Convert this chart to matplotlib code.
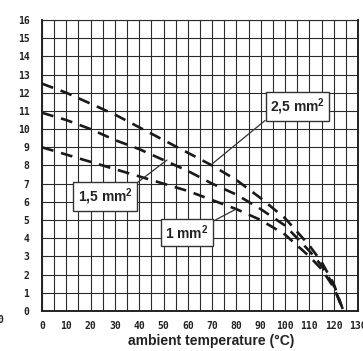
import numpy as np
import matplotlib
matplotlib.use('Agg')
import matplotlib.pyplot as plt

temps = [0, 10, 20, 30, 40, 50, 60, 70, 80, 90, 100, 110, 115, 120, 124]
current_2_5 = [12.5, 12.0, 11.4, 10.8, 10.1, 9.4, 8.7, 8.0, 7.2, 6.2, 5.1, 3.6, 2.7, 1.5, 0.0]
current_1_5 = [10.9, 10.5, 10.0, 9.4, 8.9, 8.3, 7.7, 7.0, 6.4, 5.6, 4.7, 3.3, 2.5, 1.4, 0.0]
current_1 = [9.0, 8.6, 8.2, 7.8, 7.4, 7.0, 6.6, 6.1, 5.6, 5.0, 4.2, 3.0, 2.3, 1.3, 0.0]

x_ticks = list(range(0, 131, 10))
y_ticks = list(range(0, 17))

labels = ['2,5 mm$^{\\mathregular{2}}$', '1,5 mm$^{\\mathregular{2}}$', '1 mm$^{\\mathregular{2}}$']
label_pos = [(105.0, 11.25), (26.0, 6.3), (59.7, 4.3)]
label_target = [(70.4, 8.13), (51.4, 8.3), (79.8, 5.6)]
label_corner = [(0, 0), (1, 1), (1, 1)]

fig = plt.figure(figsize=(3.63, 3.51), dpi=100)
ax = fig.add_axes([0.1157, 0.114, 0.8705, 0.829])

ax.set_xlim(0, 130)
ax.set_ylim(0, 16)

# grid: every 5 degrees, every 1 A
for xv in np.arange(0, 131, 5):
    ax.axvline(xv, color='#2a2a2a', lw=0.8, zorder=1)
for yv in y_ticks:
    ax.axhline(yv, color='#2a2a2a', lw=0.8, zorder=1)

dash = (0, (4.5, 3))
for ys in (current_2_5, current_1_5, current_1):
    ax.plot(temps, ys, color='#1a1a1a', lw=1.9, linestyle=dash, zorder=3)

for text, pos, target, corner in zip(labels, label_pos, label_target, label_corner):
    ax.annotate(text, xy=target, xytext=pos, textcoords='data',
                ha='center', va='center', fontsize=10, fontweight='bold',
                family='Liberation Sans', color='#222222', zorder=5,
                bbox=dict(boxstyle='square,pad=0.3', fc='white', ec='#333333', lw=1.0),
                arrowprops=dict(arrowstyle='-', color='#333333', lw=0.9,
                                relpos=corner, shrinkA=0, shrinkB=0))

for side in ('left', 'bottom', 'right'):
    ax.spines[side].set_linewidth(1.4)
    ax.spines[side].set_color('#222222')
ax.spines['top'].set_linewidth(0.8)
ax.spines['top'].set_color('#2a2a2a')

ax.set_xticks(x_ticks)
ax.set_yticks(y_ticks)
ax.tick_params(length=0, pad=7)
for lab in ax.get_xticklabels() + ax.get_yticklabels():
    lab.set_family('DejaVu Sans Mono')
    lab.set_fontweight('bold')
    lab.set_fontsize(7)
    lab.set_color('#222222')
ax.tick_params(axis='y', pad=9)

ax.set_xlabel('ambient temperature (°C)', fontsize=10, fontweight='bold',
              family='Liberation Sans', color='#222222', va='center')
ax.xaxis.set_label_coords(0.535, -0.103)

# stray label cut at the left edge of the scan
fig.text(-0.006, 0.08, '0', family='DejaVu Sans Mono', fontweight='bold',
         fontsize=7, color='#222222')

fig.savefig('out.png', dpi=100)
